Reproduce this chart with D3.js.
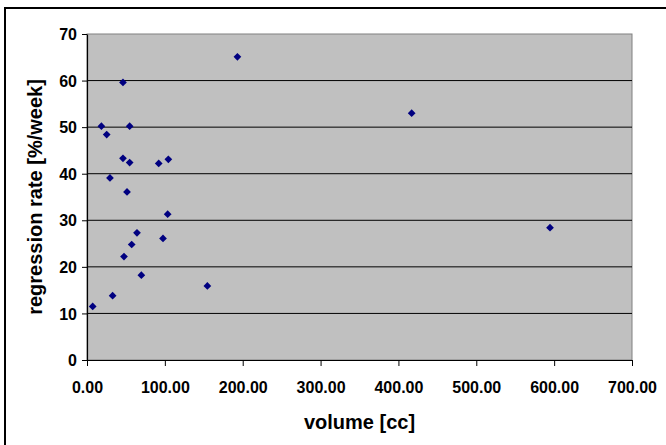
<!DOCTYPE html>
<html>
<head>
<meta charset="utf-8">
<script src="https://cdn.jsdelivr.net/npm/d3@7"></script>
<style>
  body { margin: 0; background: #fff; }
  .tick text { font-family: 'Liberation Sans', Arial, sans-serif; font-weight: bold; font-size: 16px; fill: #000; }
  .axisTitle { font-family: 'Liberation Sans', Arial, sans-serif; font-weight: bold; font-size: 20px; fill: #000; }
</style>
</head>
<body>
<div id="chart"></div>
<script>
'use strict';
// volume [cc] vs regression rate [%/week]
const volumes = [7.3, 32.9, 47.5, 57.4, 64.2, 69.8, 97.6, 154.6, 18.5, 25.3, 46.2,
    54.8, 46.2, 54.8, 29.5, 51.4, 92.1, 104.5, 103.6, 193.2, 417.0, 594.7]
const rates = [11.5, 13.8, 22.2, 24.8, 27.3, 18.2, 26.1, 15.9, 50.2, 48.4, 59.6,
    50.2, 43.3, 42.4, 39.1, 36.1, 42.2, 43.1, 31.3, 65.1, 53.0, 28.4]
const xTicks = [0, 100, 200, 300, 400, 500, 600, 700]
const yTicks = [0, 10, 20, 30, 40, 50, 60, 70]

const W = 666, H = 445
const margin = { top: 34, right: 34, bottom: 85, left: 87 }
const width = W - margin.left - margin.right
const height = H - margin.top - margin.bottom

const root = d3.select('#chart').append('svg')
    .attr('width', W)
    .attr('height', H)

root.append('rect') // outer chart border, runs off the right / bottom
    .attr('x', 5).attr('y', 8)
    .attr('width', 720).attr('height', 500)
    .attr('fill', 'none')
    .attr('stroke', '#000')
    .attr('stroke-width', 2)

const svg = root.append('g')
    .attr('transform', `translate(${margin.left},${margin.top})`)

const x = d3.scaleLinear().domain([0, 700]).range([0, width])
const y = d3.scaleLinear().domain([0, 70]).range([height, 0])

svg.append('rect') // plot area
    .attr('width', width)
    .attr('height', height)
    .attr('fill', '#c0c0c0')
    .attr('stroke', '#808080')

svg.append('g') // horizontal gridlines
    .selectAll('line')
    .data(yTicks.filter(d => d > 0 && d < 70)).enter().append('line')
    .attr('x1', 0).attr('x2', width)
    .attr('y1', d => y(d)).attr('y2', d => y(d))
    .attr('stroke', '#000')
    .attr('stroke-width', 1)

const xAxis = svg.append('g')
    .attr('transform', `translate(0,${height})`)
    .call(d3.axisBottom(x).tickValues(xTicks).tickFormat(d3.format('.2f')).tickSize(6).tickSizeOuter(0).tickPadding(16))
const yAxis = svg.append('g')
    .call(d3.axisLeft(y).tickValues(yTicks).tickSize(5).tickSizeOuter(0).tickPadding(5))
xAxis.select('.domain').attr('stroke', '#000').attr('stroke-width', 1.2)
yAxis.select('.domain').attr('stroke', '#000').attr('stroke-width', 1.2)
xAxis.selectAll('.tick line').attr('stroke', '#000')
yAxis.selectAll('.tick line').attr('stroke', '#000')
yAxis.selectAll('.tick text').attr('dy', '0.35em')

svg.append('g') // data points
    .selectAll('path')
    .data(volumes.map((v, i) => [v, rates[i]])).enter().append('path')
    .attr('d', d3.symbol().type(d3.symbolSquare).size(30))
    .attr('transform', d => `translate(${x(d[0])},${y(d[1])}) rotate(45)`)
    .attr('fill', '#000080')

svg.append('text') // x axis title
    .attr('class', 'axisTitle')
    .attr('x', width / 2)
    .attr('y', height + 69)
    .attr('text-anchor', 'middle')
    .text('volume [cc]')

svg.append('text') // y axis title
    .attr('class', 'axisTitle')
    .attr('transform', 'rotate(-90)')
    .attr('x', -height / 2)
    .attr('y', -45)
    .attr('text-anchor', 'middle')
    .text('regression rate [%/week]')
</script>
</body>
</html>
